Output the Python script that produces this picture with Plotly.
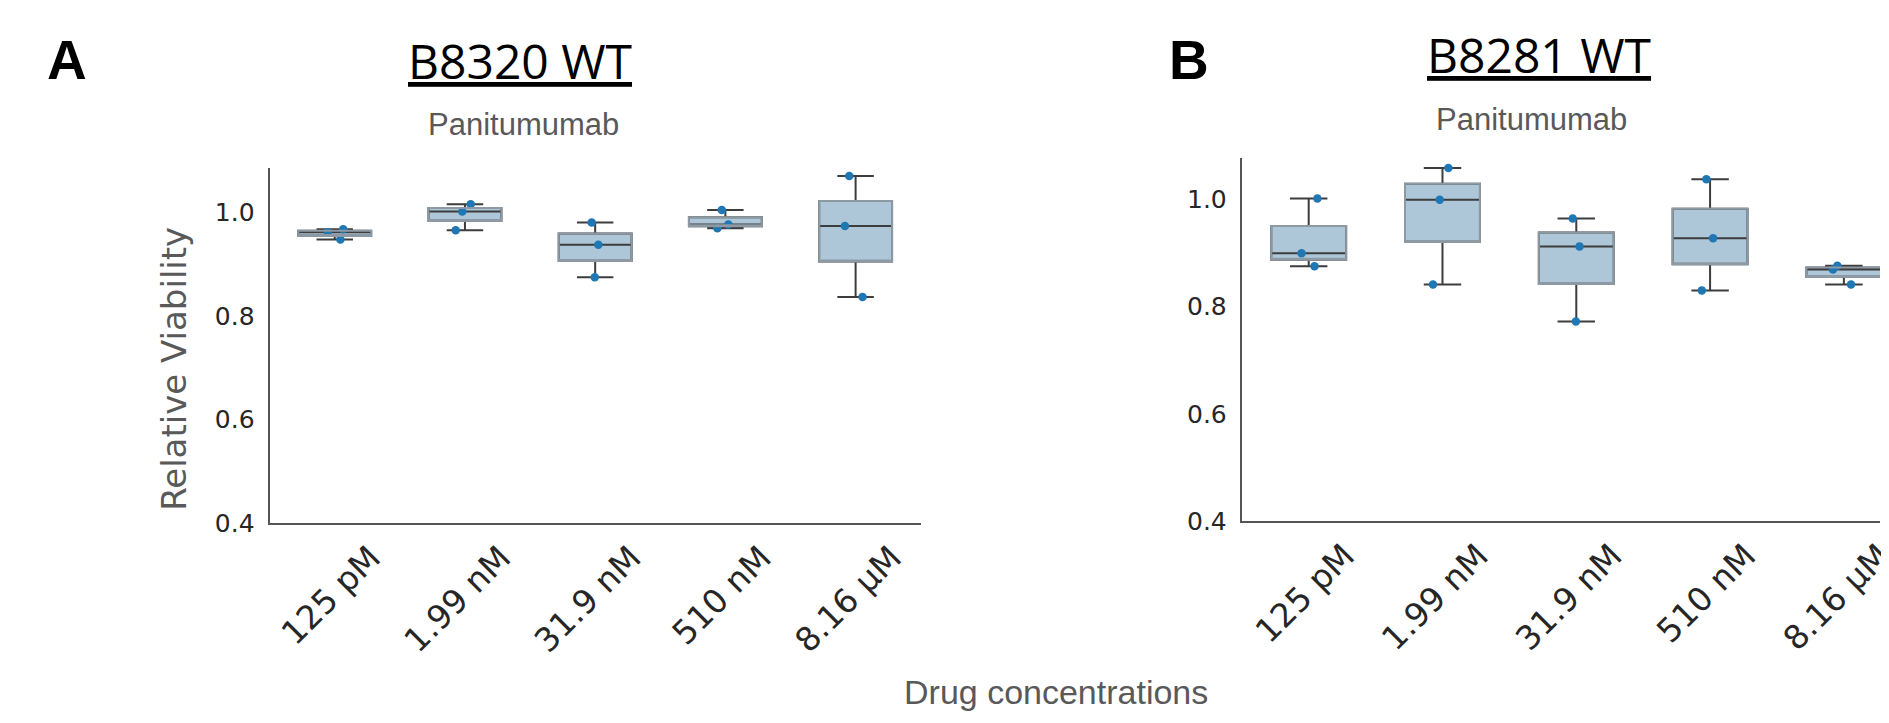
import numpy as np
import plotly.graph_objects as go

# ---------------- data ----------------
concentrations = ["125 pM", "1.99 nM", "31.9 nM", "510 nM", "8.16 µM"]

# B8320 WT, Panitumumab (relative viability, 3 replicates per dose)
b8320_125pM = [0.948, 0.962, 0.968]
b8320_199nM = [0.966, 1.002, 1.016]
b8320_319nM = [0.875, 0.938, 0.981]
b8320_510nM = [0.970, 0.977, 1.005]
b8320_816uM = [0.837, 0.974, 1.071]

# B8281 WT, Panitumumab
b8281_125pM = [0.875, 0.899, 1.001]
b8281_199nM = [0.841, 0.999, 1.058]
b8281_319nM = [0.772, 0.912, 0.964]
b8281_510nM = [0.830, 0.927, 1.037]
b8281_816uM = [0.841, 0.869, 0.876]

y_ticks = [0.4, 0.6, 0.8, 1.0]

groups_a = [b8320_125pM, b8320_199nM, b8320_319nM, b8320_510nM, b8320_816uM]
groups_b = [b8281_125pM, b8281_199nM, b8281_319nM, b8281_510nM, b8281_816uM]

W, H = 1889, 723
FILL = "#adc7d9"
DARK = "#3d3d3d"
EDGE = "#8d99a3"
DOT = "#1f77b4"
GREY = "#595959"
TICK = "#262626"

fig = go.Figure()


def add_panel(groups, xa, ya):
    xs = [c for c, vals in zip(concentrations, groups) for _ in vals]
    ys = [v for vals in groups for v in vals]
    fig.add_trace(go.Box(
        x=xs, y=ys, xaxis=xa, yaxis=ya,
        quartilemethod="inclusive",
        boxpoints="all", jitter=0.3, pointpos=0,
        fillcolor=FILL,
        line=dict(color=DARK, width=2),
        whiskerwidth=0.5,
        marker=dict(color=DOT, size=8.5, line=dict(width=0)),
        showlegend=False, hoverinfo="y",
    ))
    q1 = [float(np.percentile(v, 25)) for v in groups]
    q3 = [float(np.percentile(v, 75)) for v in groups]
    # light outline of the boxes drawn on top (median/whiskers stay dark)
    fig.add_trace(go.Box(
        x=concentrations, q1=q1, median=q1, q3=q3,
        lowerfence=q1, upperfence=q3,
        xaxis=xa, yaxis=ya,
        fillcolor="rgba(0,0,0,0)",
        line=dict(color=EDGE, width=2),
        whiskerwidth=0, boxpoints=False,
        showlegend=False, hoverinfo="skip",
    ))


add_panel(groups_a, "x", "y")
add_panel(groups_b, "x2", "y2")

xcommon = dict(
    type="category", categoryorder="array", categoryarray=concentrations,
    showline=True, linecolor="#555555", linewidth=2,
    showgrid=False, zeroline=False, ticks="",
    tickangle=-45, ticklabelshift=36,
    tickfont=dict(family="DejaVu Sans", size=33, color=TICK),
)
ycommon = dict(
    showline=True, linecolor="#555555", linewidth=2,
    showgrid=False, zeroline=False,
    tickvals=y_ticks, tickformat=".1f",
    ticks="outside", ticklen=8, tickcolor="rgba(0,0,0,0)",
    tickfont=dict(family="DejaVu Sans", size=25, color=TICK),
)

fig.update_layout(
    width=W, height=H,
    margin=dict(l=0, r=0, t=0, b=0),
    paper_bgcolor="white", plot_bgcolor="white",
    boxgap=0.2, boxmode="overlay",
    xaxis=dict(domain=[264 / W, 921 / W], range=[-0.5, 4.5], anchor="y", **xcommon),
    yaxis=dict(domain=[1 - 526 / H, 1 - 163 / H], range=[0.4, 1.087], anchor="x", **ycommon),
    xaxis2=dict(domain=[1245 / W, 1.0], range=[-0.5, 4.27], anchor="y2", **xcommon),
    yaxis2=dict(domain=[1 - 524 / H, 1 - 153 / H], range=[0.4, 1.077], anchor="x2", **ycommon),
)


def px(x, y):
    return x / W, 1 - y / H


annots = []


def add_text(text, x, y, family, size, color, angle=0, weight="normal"):
    fx, fy = px(x, y)
    annots.append(dict(
        text=text, x=fx, y=fy, xref="paper", yref="paper",
        xanchor="center", yanchor="middle", showarrow=False, textangle=angle,
        font=dict(family=family, size=size, color=color, weight=weight),
    ))


add_text("A", 60, 53, "Liberation Sans", 55, "black", weight="bold")
add_text("B", 1192, 53, "Liberation Sans", 55, "black", weight="bold")
add_text("<u>B8320 WT</u>", 517, 54, "Open Sans", 48, "black")
add_text("<u>B8281 WT</u>", 1545, 47, "Open Sans", 48, "black")
add_text("Panitumumab", 520, 119, "Liberation Sans", 31, GREY)
add_text("Panitumumab", 1537, 114, "Liberation Sans", 31, GREY)
add_text("Relative Viability", 168, 368, "DejaVu Sans", 34, GREY, angle=-90)
add_text("Drug concentrations", 1058, 698, "Liberation Sans", 34, GREY)

fig.update_layout(annotations=annots)

fig.write_html("out.html")
